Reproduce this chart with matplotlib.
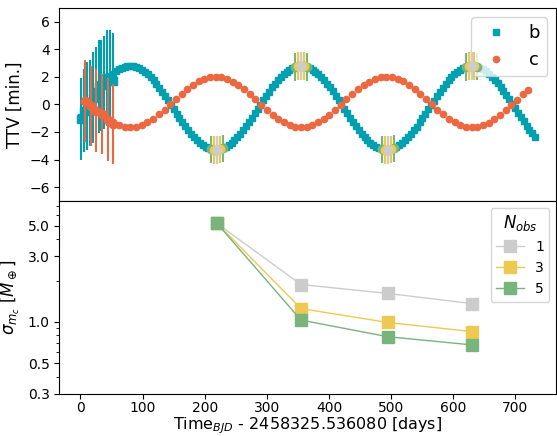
import matplotlib
matplotlib.use("Agg")
import matplotlib.pyplot as plt
from matplotlib.ticker import FixedLocator, FormatStrFormatter, NullFormatter

# colours
c_b = "#00A0B0"
c_c = "#EB6841"
c_1 = "#CCCCCC"
c_3 = "#EDC951"
c_5 = "#78B47C"

# model transit times [days] and TTVs [min] of planet b
t_b = [1.2, 5.9, 10.5, 15.2, 19.8, 24.5, 29.1, 33.8, 38.4, 43.1, 47.7, 52.4, 57.0, 61.7,
       66.4, 71.0, 75.7, 80.3, 85.0, 89.6, 94.3, 98.9, 103.6, 108.2, 112.9, 117.6, 122.2,
       126.9, 131.5, 136.2, 140.8, 145.5, 150.1, 154.8, 159.4, 164.1, 168.7, 173.4, 178.1,
       182.7, 187.4, 192.0, 196.7, 201.3, 206.0, 210.6, 215.3, 219.9, 224.6, 229.2, 233.9,
       238.6, 243.2, 247.9, 252.5, 257.2, 261.8, 266.5, 271.1, 275.8, 280.4, 285.1, 289.7,
       294.4, 299.1, 303.7, 308.4, 313.0, 317.7, 322.3, 327.0, 331.6, 336.3, 340.9, 345.6,
       350.3, 354.9, 359.6, 364.2, 368.9, 373.5, 378.2, 382.8, 387.5, 392.1, 396.8, 401.4,
       406.1, 410.8, 415.4, 420.1, 424.7, 429.4, 434.0, 438.7, 443.3, 448.0, 452.6, 457.3,
       461.9, 466.6, 471.3, 475.9, 480.6, 485.2, 489.9, 494.5, 499.2, 503.8, 508.5, 513.1,
       517.8, 522.4, 527.1, 531.8, 536.4, 541.1, 545.7, 550.4, 555.0, 559.7, 564.3, 569.0,
       573.6, 578.3, 583.0, 587.6, 592.3, 596.9, 601.6, 606.2, 610.9, 615.5, 620.2, 624.8,
       629.5, 634.1, 638.8, 643.5, 648.1, 652.8, 657.4, 662.1, 666.7, 671.4, 676.0, 680.7,
       685.3, 690.0, 694.6, 699.3, 704.0, 708.6, 713.3, 717.9, 722.6, 727.2, 731.9]
ttv_b = [-0.95, -0.63, -0.30, 0.02, 0.34, 0.66, 0.96, 1.25, 1.52, 1.78, 2.01, 2.21, 2.39,
         2.54, 2.65, 2.74, 2.79, 2.80, 2.78, 2.73, 2.64, 2.52, 2.37, 2.19, 1.98, 1.74, 1.49,
         1.21, 0.92, 0.62, 0.30, -0.02, -0.35, -0.67, -0.99, -1.30, -1.60, -1.88, -2.14,
         -2.39, -2.61, -2.80, -2.96, -3.09, -3.19, -3.26, -3.30, -3.30, -3.26, -3.19, -3.09,
         -2.95, -2.79, -2.60, -2.38, -2.13, -1.87, -1.58, -1.28, -0.97, -0.65, -0.33, -0.01,
         0.31, 0.63, 0.93, 1.23, 1.50, 1.76, 1.99, 2.20, 2.38, 2.53, 2.64, 2.73, 2.78, 2.80,
         2.78, 2.73, 2.65, 2.53, 2.38, 2.20, 2.00, 1.77, 1.51, 1.24, 0.95, 0.64, 0.33, 0.01,
         -0.32, -0.64, -0.96, -1.27, -1.57, -1.85, -2.12, -2.36, -2.59, -2.78, -2.95, -3.08,
         -3.19, -3.26, -3.29, -3.30, -3.26, -3.20, -3.10, -2.97, -2.80, -2.61, -2.40, -2.16,
         -1.89, -1.61, -1.31, -1.00, -0.68, -0.36, -0.04, 0.27, 0.60, 0.91, 1.20, 1.48, 1.74,
         1.97, 2.18, 2.36, 2.51, 2.63, 2.72, 2.78, 2.80, 2.79, 2.74, 2.66, 2.54, 2.40, 2.22,
         2.02, 1.79, 1.54, 1.26, 0.97, 0.67, 0.36, 0.04, -0.29, -0.61, -0.93, -1.24, -1.54,
         -1.83, -2.10, -2.34]

# model transit times [days] and TTVs [min] of planet c
t_c = [7.2, 16.4, 25.5, 34.7, 43.8, 53.0, 62.1, 71.3, 80.4, 89.6, 98.7, 107.9, 117.0, 126.2,
       135.3, 144.5, 153.6, 162.8, 171.9, 181.1, 190.2, 199.4, 208.5, 217.7, 226.8, 236.0,
       245.1, 254.3, 263.4, 272.6, 281.7, 290.9, 300.0, 309.2, 318.3, 327.5, 336.6, 345.8,
       354.9, 364.1, 373.2, 382.4, 391.5, 400.7, 409.8, 419.0, 428.1, 437.3, 446.4, 455.6,
       464.7, 473.9, 483.0, 492.2, 501.3, 510.5, 519.6, 528.8, 537.9, 547.1, 556.2, 565.4,
       574.5, 583.7, 592.8, 602.0, 611.1, 620.3, 629.4, 638.6, 647.7, 656.9, 666.0, 675.2,
       684.3, 693.5, 702.6, 711.8, 720.9]
ttv_c = [0.35, -0.03, -0.41, -0.75, -1.06, -1.31, -1.50, -1.61, -1.65, -1.61, -1.49, -1.29,
         -1.03, -0.72, -0.37, 0.00, 0.38, 0.76, 1.10, 1.41, 1.67, 1.86, 1.97, 2.01, 1.97, 1.85,
         1.66, 1.40, 1.09, 0.74, 0.37, -0.01, -0.39, -0.74, -1.04, -1.30, -1.49, -1.61, -1.65,
         -1.61, -1.49, -1.30, -1.05, -0.74, -0.39, -0.02, 0.36, 0.74, 1.09, 1.40, 1.65, 1.85,
         1.97, 2.01, 1.97, 1.86, 1.67, 1.42, 1.11, 0.76, 0.39, 0.01, -0.37, -0.72, -1.03,
         -1.29, -1.48, -1.61, -1.65, -1.61, -1.50, -1.32, -1.06, -0.76, -0.41, -0.04, 0.34,
         0.72, 1.07]

# observed TESS transits
tobs_b = [1.2, 5.9, 10.5, 15.2, 19.8, 24.5, 29.1, 33.8, 38.4, 43.1, 47.7, 52.4]
obs_b = [-1.05, -0.45, -0.10, 0.10, 0.50, 0.90, 1.30, 1.40, 1.60, 1.90, 2.00, 1.70]
err_b = [3.0, 3.0, 3.2, 3.1, 3.3, 3.3, 3.4, 3.3, 3.4, 3.5, 3.4, 3.5]
tobs_c = [7.2, 16.4, 25.5, 34.7, 43.8, 53.0]
obs_c = [0.26, -0.10, -0.46, -0.70, -1.10, -1.41]
err_c = [3.0, 2.9, 3.0, 2.9, 3.0, 2.9]

# simulated future transits of b (5, 3 and 1 per epoch)
tf_5 = [210.6, 215.3, 219.9, 224.6, 229.2, 345.6, 350.3, 354.9, 359.6, 364.2,
        485.2, 489.9, 494.5, 499.2, 503.8, 620.2, 624.8, 629.5, 634.1, 638.8]
ttvf_5 = [-3.26, -3.30, -3.30, -3.26, -3.19, 2.73, 2.78, 2.80, 2.78, 2.73,
          -3.26, -3.29, -3.30, -3.26, -3.20, 2.72, 2.78, 2.80, 2.79, 2.74]
tf_3 = [215.3, 219.9, 224.6, 350.3, 354.9, 359.6, 489.9, 494.5, 499.2, 624.8, 629.5, 634.1]
ttvf_3 = [-3.30, -3.30, -3.26, 2.78, 2.80, 2.78, -3.29, -3.30, -3.26, 2.78, 2.80, 2.79]
tf_1 = [219.9, 354.9, 494.5, 629.5]
ttvf_1 = [-3.30, 2.80, -3.30, 2.80]
errf = 1.0

# mass uncertainty of c vs. time of last observed epoch
t_ep = [219.9, 354.9, 494.5, 629.5]
sig_1 = [5.2, 1.87, 1.61, 1.36]
sig_3 = [5.2, 1.25, 0.99, 0.85]
sig_5 = [5.2, 1.03, 0.78, 0.68]

fig, (ax1, ax2) = plt.subplots(2, 1, sharex=True, figsize=(5.57, 4.36), dpi=100)
fig.subplots_adjust(left=0.1065, right=0.999, top=0.9817, bottom=0.097, hspace=0)

ax1.plot(t_b, ttv_b, "s", color=c_b, ms=5, label="b", zorder=2)
ax1.errorbar(tobs_b, obs_b, yerr=err_b, fmt="s", color=c_b, ms=6, elinewidth=1.5, zorder=3)
ax1.plot(t_c, ttv_c, "o", color=c_c, ms=4.5, label="c", zorder=3)
ax1.errorbar(tobs_c, obs_c, yerr=err_c, fmt="o", color=c_c, ms=6, elinewidth=1.5, zorder=4)
ax1.errorbar(tf_5, ttvf_5, yerr=errf, fmt="o", color=c_5, ms=6, elinewidth=1.5, zorder=5)
ax1.errorbar(tf_3, ttvf_3, yerr=errf, fmt="o", color=c_3, ms=6, elinewidth=1.5, zorder=6)
ax1.errorbar(tf_1, ttvf_1, yerr=errf, fmt="o", color=c_1, ms=6, elinewidth=1.5, zorder=7)
ax1.set_ylim(-7, 7)
ax1.set_yticks([-6, -4, -2, 0, 2, 4, 6])
ax1.set_ylabel("TTV [min.]", fontsize=12)
ax1.tick_params(axis="x", bottom=False)
ax1.tick_params(axis="y", labelsize=10)
ax1.legend(loc="upper right", fontsize=13)

ax2.plot(t_ep, sig_1, "s-", color=c_1, ms=8, lw=1, label="1")
ax2.plot(t_ep, sig_3, "s-", color=c_3, ms=8, lw=1, label="3")
ax2.plot(t_ep, sig_5, "s-", color=c_5, ms=8, lw=1, label="5")
ax2.set_yscale("log")
ax2.set_ylim(0.3, 7.6)
ax2.yaxis.set_major_locator(FixedLocator([0.3, 0.5, 1.0, 3.0, 5.0]))
ax2.yaxis.set_major_formatter(FormatStrFormatter("%.1f"))
ax2.yaxis.set_minor_formatter(NullFormatter())
ax2.set_xlim(-34, 766)
ax2.set_xticks([0, 100, 200, 300, 400, 500, 600, 700])
ax2.tick_params(labelsize=10)
ax2.tick_params(axis="x", pad=2)
ax2.set_ylabel(r"$\sigma_{m_c}$ [$M_\oplus$]", fontsize=12)
ax2.set_xlabel(r"Time$_{BJD}$ - 2458325.536080 [days]", fontsize=11.5, labelpad=0)
leg = ax2.legend(loc="upper right", fontsize=10, title=r"$N_{obs}$", title_fontsize=12)

fig.savefig("out.png", dpi=100)
